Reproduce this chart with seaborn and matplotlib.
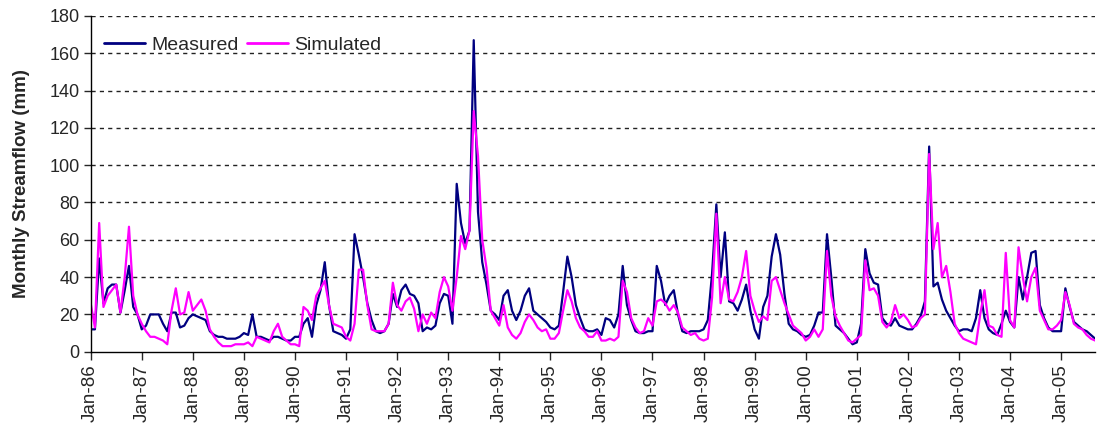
import numpy as np
import pandas as pd
import matplotlib
matplotlib.use("Agg")
import matplotlib.pyplot as plt
import seaborn as sns

# ---- data (monthly, Jan-1986 .. Sep-2005) ----
measured = [
    12, 12, 50, 26, 34, 36, 36, 21, 33, 46, 24, 20,   # 1986
    12, 14, 20, 20, 20, 15, 11, 21, 21, 13, 14, 18,   # 1987
    20, 19, 18, 17, 11, 9, 8, 8, 7, 7, 7, 8,          # 1988
    10, 9, 20, 8, 8, 7, 6, 8, 8, 7, 6, 6,             # 1989
    8, 8, 15, 18, 8, 25, 33, 48, 25, 11, 10, 9,       # 1990
    7, 12, 63, 52, 40, 26, 17, 11, 10, 11, 15, 31,    # 1991
    24, 33, 36, 31, 30, 26, 11, 13, 12, 14, 26, 31,   # 1992
    30, 15, 90, 69, 58, 65, 167, 75, 48, 36, 22, 20,  # 1993
    17, 30, 33, 22, 17, 22, 30, 34, 22, 20, 18, 16,   # 1994
    13, 12, 14, 32, 51, 40, 25, 18, 12, 11, 11, 12,   # 1995
    9, 18, 17, 13, 20, 46, 25, 17, 11, 10, 10, 11,    # 1996
    11, 46, 38, 25, 30, 33, 20, 11, 10, 11, 11, 11,   # 1997
    12, 17, 42, 79, 40, 64, 27, 26, 22, 28, 36, 22,   # 1998
    12, 7, 24, 30, 51, 63, 52, 31, 15, 12, 11, 9,     # 1999
    8, 9, 14, 21, 21, 63, 40, 14, 12, 10, 7, 4,       # 2000
    5, 15, 55, 42, 37, 36, 18, 15, 14, 18, 14, 13,    # 2001
    12, 12, 15, 19, 27, 110, 35, 37, 28, 22, 18, 14,  # 2002
    11, 12, 12, 11, 18, 33, 18, 12, 10, 9, 15, 22,    # 2003
    16, 13, 40, 28, 40, 53, 54, 25, 18, 13, 11, 11,   # 2004
    11, 34, 24, 16, 14, 12, 11, 9, 7,                 # 2005
]
simulated = [
    26, 13, 69, 24, 30, 33, 36, 21, 40, 67, 30, 20,   # 1986
    15, 11, 8, 8, 7, 6, 4, 22, 34, 20, 21, 32,        # 1987
    22, 25, 28, 22, 12, 8, 5, 3, 3, 3, 4, 4,          # 1988
    4, 5, 3, 8, 7, 6, 5, 11, 15, 8, 6, 4,             # 1989
    4, 3, 24, 22, 17, 30, 34, 38, 25, 15, 14, 13,     # 1990
    8, 6, 15, 44, 44, 25, 12, 11, 11, 11, 15, 37,     # 1991
    25, 22, 27, 29, 23, 11, 20, 15, 21, 18, 32, 40,   # 1992
    35, 22, 40, 62, 55, 65, 129, 105, 60, 45, 22, 18, # 1993
    14, 25, 13, 9, 7, 10, 16, 20, 17, 13, 11, 12,     # 1994
    7, 7, 10, 22, 33, 27, 18, 13, 11, 8, 8, 11,       # 1995
    6, 6, 7, 6, 8, 38, 32, 18, 13, 10, 11, 18,        # 1996
    14, 27, 28, 26, 22, 25, 21, 13, 11, 9, 10, 7,     # 1997
    6, 7, 29, 74, 26, 40, 28, 27, 32, 40, 54, 30,     # 1998
    22, 16, 19, 17, 38, 40, 33, 26, 20, 14, 12, 10,   # 1999
    6, 8, 12, 8, 12, 54, 30, 19, 14, 10, 6, 5,        # 2000
    7, 9, 49, 33, 34, 30, 16, 13, 16, 25, 18, 20,     # 2001
    17, 13, 14, 18, 20, 106, 55, 69, 40, 46, 32, 15,  # 2002
    10, 7, 6, 5, 4, 20, 33, 14, 13, 9, 8, 53,         # 2003
    17, 13, 56, 40, 27, 40, 45, 22, 17, 12, 12, 14,   # 2004
    17, 32, 25, 15, 13, 12, 9, 7, 6,                  # 2005
]
years = list(range(1986, 2006))
tick_labels = [f"Jan-{y % 100:02d}" for y in years]
series_names = ["Measured", "Simulated"]
series_colors = ["#000080", "#FF00FF"]

months = np.arange(len(measured))
df = pd.DataFrame({
    "month": np.concatenate([months, months]),
    "value": measured + simulated,
    "series": [series_names[0]] * len(measured) + [series_names[1]] * len(simulated),
})

sns.set_style("white")
plt.rcParams["font.family"] = ["Liberation Sans", "DejaVu Sans"]

fig = plt.figure(figsize=(10.99, 4.30), dpi=100)
ax = fig.add_axes([0.0825, 0.182, 0.914, 0.781])

sns.lineplot(data=df, x="month", y="value", hue="series",
             palette=dict(zip(series_names, series_colors)),
             linewidth=1.6, ax=ax, legend=True)

ax.set_xlim(0, 236)
ax.set_ylim(0, 180)
ax.set_yticks(np.arange(0, 181, 20))
ax.set_xticks(np.arange(0, 12 * len(years), 12))
ax.set_xticklabels(tick_labels, rotation=90, fontsize=13.5)
ax.tick_params(axis="y", labelsize=13, direction="out", length=5, width=1, left=True, pad=3)
ax.tick_params(axis="x", direction="out", length=6, width=1, bottom=True, pad=3)

for v in np.arange(20, 181, 20):
    ax.axhline(v, color="#222222", linestyle=(0, (3, 3)), linewidth=1.0, zorder=0)

for s in ["top", "right"]:
    ax.spines[s].set_visible(False)
for s in ["left", "bottom"]:
    ax.spines[s].set_color("black")
    ax.spines[s].set_linewidth(1.0)

ax.set_xlabel("")
ax.set_ylabel("Monthly Streamflow (mm)", fontsize=13.5, fontweight="bold", labelpad=14)

leg = ax.legend(loc="upper left", ncol=2, frameon=False, fontsize=14,
                handlelength=2.1, handletextpad=0.3, columnspacing=0.45,
                bbox_to_anchor=(0.0, 0.98), borderaxespad=0.3)
for line in leg.get_lines():
    line.set_linewidth(2.0)

fig.savefig("out.png", dpi=100, facecolor="white")
